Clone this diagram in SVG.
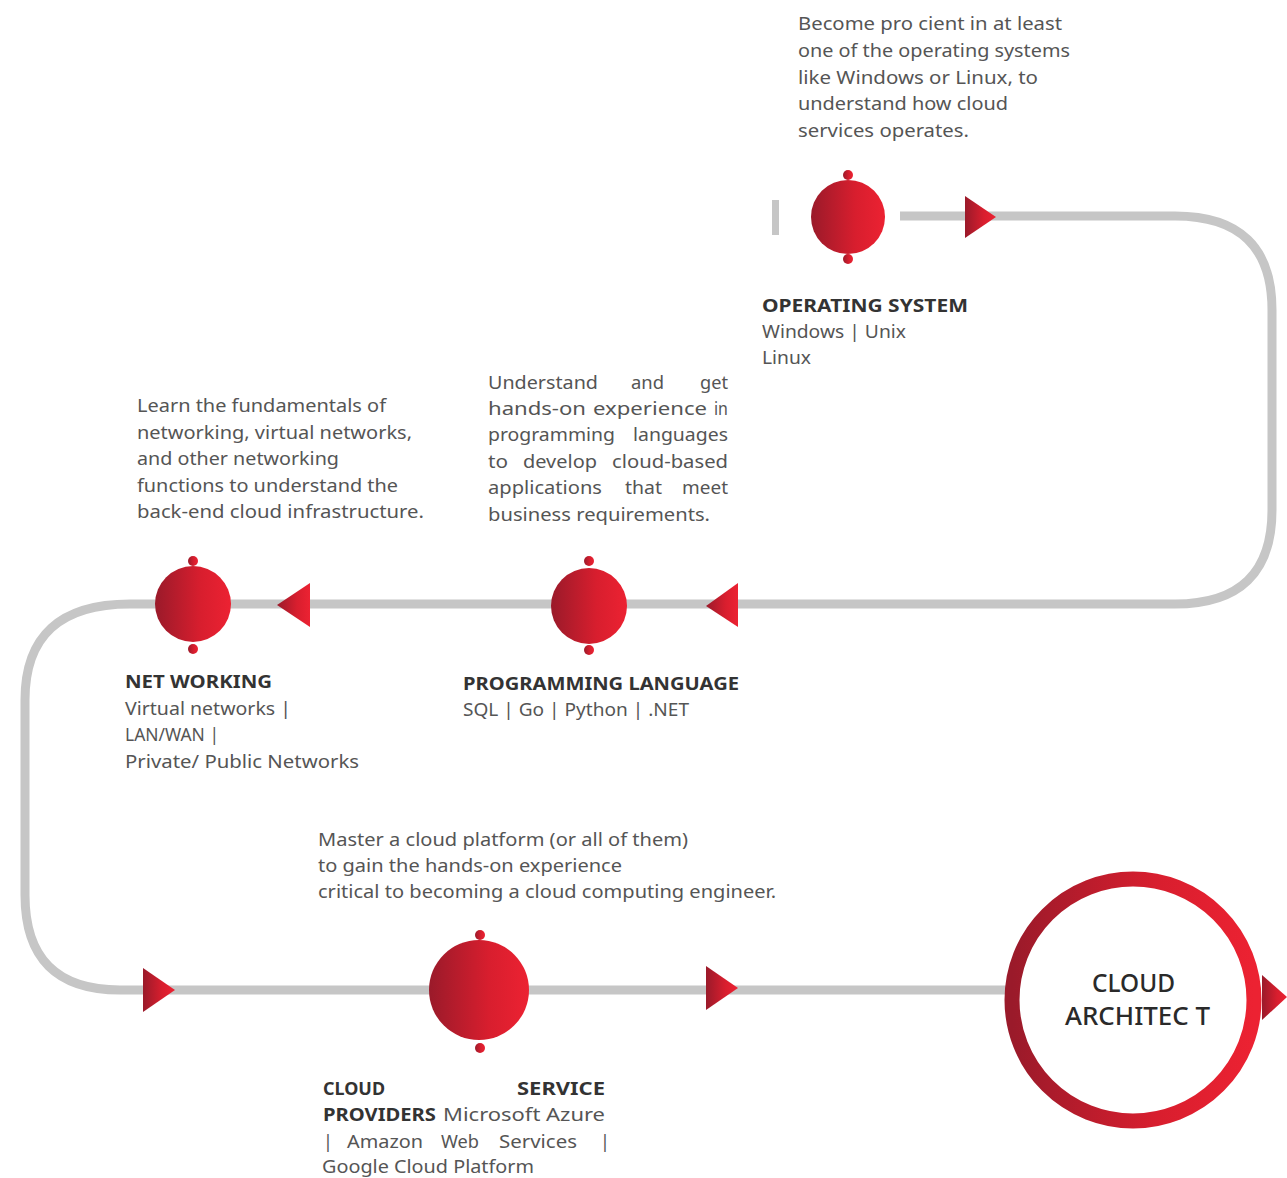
<svg xmlns="http://www.w3.org/2000/svg" width="1287" height="1178" viewBox="0 0 1287 1178">
<defs>
<linearGradient id="rg" x1="0" y1="0" x2="1" y2="0">
<stop offset="0" stop-color="#9a1a2a"/>
<stop offset="0.6" stop-color="#d81e2e"/>
<stop offset="1" stop-color="#ec2232"/>
</linearGradient>
<style>
text{font-family:"Noto Sans","DejaVu Sans",sans-serif}
.body{font-size:18px;fill:#555}
.title{font-size:18px;font-weight:bold;fill:#333}
.big{font-size:25px;font-weight:500;fill:#2a2a2a}
.node{fill:url(#rg)}
.arr{fill:url(#rg)}
.line{fill:none;stroke:#c6c6c6;stroke-width:9}
</style>
</defs>
<rect width="1287" height="1178" fill="#fff"/>
<g id="connectors">
<rect x="772" y="200" width="7" height="35" fill="#c6c6c6"/>
<path class="line" d="M 900 216 L 1175 216 Q 1272 216 1272 310 L 1272 510 Q 1272 604 1175 604 L 130 604 Q 25 604 25 700 L 25 895 Q 25 990 120 990 L 1010 990"/>
<polygon class="arr" points="965,196 965,238 996,217"/>
<polygon class="arr" points="738,583 738,627 706,606"/>
<polygon class="arr" points="310,583 310,627 277,605"/>
<polygon class="arr" points="143,968 143,1012 175,990"/>
<polygon class="arr" points="706,966 706,1010 738,988"/>
<polygon class="arr" points="1262,975 1262,1020 1287,997"/>
</g>
<g id="os">
<circle class="node" cx="848" cy="217" r="37"/>
<circle class="node" cx="848" cy="175" r="5"/>
<circle class="node" cx="848" cy="259" r="5"/>
<text class="body" x="798" y="30" textLength="264" lengthAdjust="spacingAndGlyphs">Become pro cient in at least</text>
<text class="body" x="798" y="57" textLength="272" lengthAdjust="spacingAndGlyphs">one of the operating systems</text>
<text class="body" x="798" y="84" textLength="240" lengthAdjust="spacingAndGlyphs">like Windows  or Linux, to</text>
<text class="body" x="798" y="110" textLength="210" lengthAdjust="spacingAndGlyphs">understand how cloud</text>
<text class="body" x="798" y="137" textLength="171" lengthAdjust="spacingAndGlyphs">services operates.</text>
<text class="title" x="762" y="312" textLength="206" lengthAdjust="spacingAndGlyphs">OPERATING SYSTEM</text>
<text class="body" x="762" y="338" textLength="144" lengthAdjust="spacingAndGlyphs">Windows | Unix</text>
<text class="body" x="762" y="364" textLength="49" lengthAdjust="spacingAndGlyphs">Linux</text>
</g>
<g id="pl">
<circle class="node" cx="589" cy="606" r="38"/>
<circle class="node" cx="589" cy="561" r="5"/>
<circle class="node" cx="589" cy="650" r="5"/>
<text class="body" x="488" y="389" textLength="110" lengthAdjust="spacingAndGlyphs">Understand</text>
<text class="body" x="631" y="389" textLength="33" lengthAdjust="spacingAndGlyphs">and</text>
<text class="body" x="700" y="389" textLength="28" lengthAdjust="spacingAndGlyphs">get</text>
<text class="body" x="488" y="415" textLength="98" lengthAdjust="spacingAndGlyphs">hands-on</text>
<text class="body" x="593" y="415" textLength="114" lengthAdjust="spacingAndGlyphs">experience</text>
<text class="body" x="714" y="415" textLength="14" lengthAdjust="spacingAndGlyphs">in</text>
<text class="body" x="488" y="441" textLength="127" lengthAdjust="spacingAndGlyphs">programming</text>
<text class="body" x="633" y="441" textLength="95" lengthAdjust="spacingAndGlyphs">languages</text>
<text class="body" x="488" y="468" textLength="20" lengthAdjust="spacingAndGlyphs">to</text>
<text class="body" x="523" y="468" textLength="74" lengthAdjust="spacingAndGlyphs">develop</text>
<text class="body" x="612" y="468" textLength="116" lengthAdjust="spacingAndGlyphs">cloud-based</text>
<text class="body" x="488" y="494" textLength="114" lengthAdjust="spacingAndGlyphs">applications</text>
<text class="body" x="625" y="494" textLength="37" lengthAdjust="spacingAndGlyphs">that</text>
<text class="body" x="682" y="494" textLength="46" lengthAdjust="spacingAndGlyphs">meet</text>
<text class="body" x="488" y="521" textLength="222" lengthAdjust="spacingAndGlyphs">business requirements.</text>
<text class="title" x="463" y="690" textLength="276" lengthAdjust="spacingAndGlyphs">PROGRAMMING LANGUAGE</text>
<text class="body" x="463" y="716" textLength="226" lengthAdjust="spacingAndGlyphs">SQL | Go | Python | .NET</text>
</g>
<g id="nw">
<circle class="node" cx="193" cy="604" r="38"/>
<circle class="node" cx="193" cy="561" r="5"/>
<circle class="node" cx="193" cy="649" r="5"/>
<text class="body" x="137" y="412" textLength="249" lengthAdjust="spacingAndGlyphs">Learn the fundamentals of</text>
<text class="body" x="137" y="439" textLength="275" lengthAdjust="spacingAndGlyphs">networking, virtual networks,</text>
<text class="body" x="137" y="465" textLength="202" lengthAdjust="spacingAndGlyphs">and other networking</text>
<text class="body" x="137" y="492" textLength="261" lengthAdjust="spacingAndGlyphs">functions to understand the</text>
<text class="body" x="137" y="518" textLength="287" lengthAdjust="spacingAndGlyphs">back-end cloud infrastructure.</text>
<text class="title" x="125" y="688" textLength="147" lengthAdjust="spacingAndGlyphs">NET WORKING</text>
<text class="body" x="125" y="715" textLength="166" lengthAdjust="spacingAndGlyphs">Virtual networks |</text>
<text class="body" x="125" y="741" textLength="94" lengthAdjust="spacingAndGlyphs">LAN/WAN |</text>
<text class="body" x="125" y="768" textLength="234" lengthAdjust="spacingAndGlyphs">Private/ Public Networks</text>
</g>
<g id="cp">
<circle class="node" cx="479" cy="990" r="50"/>
<circle class="node" cx="480" cy="935" r="5"/>
<circle class="node" cx="480" cy="1048" r="5"/>
<text class="body" x="318" y="846" textLength="370" lengthAdjust="spacingAndGlyphs">Master a cloud platform (or all of them)</text>
<text class="body" x="318" y="872" textLength="304" lengthAdjust="spacingAndGlyphs">to gain the hands-on experience</text>
<text class="body" x="318" y="898" textLength="458" lengthAdjust="spacingAndGlyphs">critical to becoming a cloud computing engineer.</text>
<text class="title" x="323" y="1095" textLength="62" lengthAdjust="spacingAndGlyphs">CLOUD</text>
<text class="title" x="517" y="1095" textLength="88" lengthAdjust="spacingAndGlyphs">SERVICE</text>
<text class="title" x="323" y="1121" textLength="113" lengthAdjust="spacingAndGlyphs">PROVIDERS</text>
<text class="body" x="443" y="1121" textLength="162" lengthAdjust="spacingAndGlyphs">Microsoft Azure</text>
<text class="body" x="323" y="1148">|</text>
<text class="body" x="347" y="1148" textLength="76" lengthAdjust="spacingAndGlyphs">Amazon</text>
<text class="body" x="441" y="1148" textLength="38" lengthAdjust="spacingAndGlyphs">Web</text>
<text class="body" x="499" y="1148" textLength="78" lengthAdjust="spacingAndGlyphs">Services</text>
<text class="body" x="600" y="1148">|</text>
<text class="body" x="322" y="1173" textLength="212" lengthAdjust="spacingAndGlyphs">Google Cloud Platform</text>
</g>
<g id="ca">
<circle cx="1133" cy="1000" r="121" fill="#fff" stroke="url(#rg)" stroke-width="15"/>
<text class="big" x="1092" y="992" textLength="83" lengthAdjust="spacingAndGlyphs">CLOUD</text>
<text class="big" x="1065" y="1025" textLength="145" lengthAdjust="spacingAndGlyphs">ARCHITEC T</text>
</g>
</svg>
